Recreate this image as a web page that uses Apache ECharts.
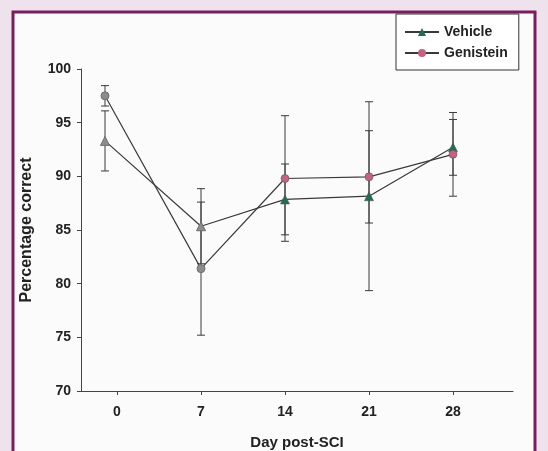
<!DOCTYPE html>
<html>
<head>
<meta charset="utf-8">
<script src="https://cdn.jsdelivr.net/npm/echarts@6/dist/echarts.min.js"></script>
<style>
  html, body { margin: 0; padding: 0; background: #eee3ed; }
  #chart { width: 548px; height: 451px; }
</style>
</head>
<body>
<div id="chart"></div>
<script>
// Day positions as plotted (day 0 points are drawn slightly left of the 0 tick)
const dayPositions = [-1, 7, 14, 21, 28];
const xTickValues = [0, 7, 14, 21, 28];
const yTickValues = [70, 75, 80, 85, 90, 95, 100];

const vehicleMean = [93.3, 85.35, 87.85, 88.15, 92.7];
const vehicleErr = [2.8, 3.5, 3.3, 8.8, 2.6];

const genisteinMean = [97.5, 81.4, 89.8, 89.95, 92.05];
const genisteinErr = [0.95, 6.2, 5.85, 4.3, 3.9];

const FONT = '"Liberation Sans", Arial, sans-serif';
const GRAY = '#8c8c8c';

function pointStyle(i, color) {
  // first two time points appear gray in the reference
  return i < 2 ? { color: GRAY, borderColor: '#6f6f6f', borderWidth: 1 }
               : { color: color, borderColor: '#555', borderWidth: 0.6 };
}

function lineData(means, color) {
  return means.map((v, i) => ({ value: [dayPositions[i], v], itemStyle: pointStyle(i, color) }));
}
function errData(means, errs) {
  return means.map((v, i) => [dayPositions[i], v - errs[i], v + errs[i]]);
}

function renderErr(params, api) {
  const x = api.value(0);
  const lo = api.coord([x, api.value(1)]);
  const hi = api.coord([x, api.value(2)]);
  const half = 4;
  const st = { stroke: '#3a3a3a', lineWidth: 1 };
  return {
    type: 'group',
    children: [
      { type: 'line', shape: { x1: hi[0], y1: hi[1], x2: lo[0], y2: lo[1] }, style: st },
      { type: 'line', shape: { x1: hi[0] - half, y1: hi[1], x2: hi[0] + half, y2: hi[1] }, style: st },
      { type: 'line', shape: { x1: lo[0] - half, y1: lo[1], x2: lo[0] + half, y2: lo[1] }, style: st }
    ]
  };
}

const chart = echarts.init(document.getElementById('chart'));
chart.setOption({
  animation: false,
  backgroundColor: 'transparent',
  graphic: [{
    type: 'rect', z: -10, silent: true,
    shape: { x: 13, y: 12, width: 522, height: 460 },
    style: { fill: '#fbfbfb', stroke: '#7a1e5b', lineWidth: 3 }
  }],
  grid: { left: 81, right: 35, top: 69, bottom: 60, containLabel: false, outerBoundsMode: 'none' },
  legend: {
    left: 396, top: 14, orient: 'vertical',
    padding: [11, 11, 10, 8],
    itemGap: 7,
    itemWidth: 34, itemHeight: 10,
    borderColor: '#333', borderWidth: 1, backgroundColor: '#ffffff',
    textStyle: { fontFamily: FONT, fontWeight: 'bold', fontSize: 14, color: '#222' },
    data: ['Vehicle', 'Genistein']
  },
  xAxis: {
    type: 'value', min: -3, max: 33,
    name: 'Day post-SCI', nameLocation: 'middle', nameGap: 44,
    nameTextStyle: { fontFamily: FONT, fontWeight: 'bold', fontSize: 15, color: '#222' },
    splitLine: { show: false },
    axisLine: { onZero: false, lineStyle: { color: '#444', width: 1 } },
    axisTick: { show: true, length: 4, customValues: xTickValues, lineStyle: { color: '#444' } },
    axisLabel: { customValues: xTickValues, margin: 14, fontFamily: FONT, fontWeight: 'bold', fontSize: 14, color: '#222' }
  },
  yAxis: {
    type: 'value', min: 70, max: 100, interval: 5,
    name: 'Percentage correct', nameLocation: 'middle', nameGap: 46, nameRotate: 90,
    nameTextStyle: { fontFamily: FONT, fontWeight: 'bold', fontSize: 16, color: '#222' },
    splitLine: { show: false },
    axisLine: { show: true, onZero: false, lineStyle: { color: '#444', width: 1 } },
    axisTick: { show: true, length: 4, lineStyle: { color: '#444' } },
    axisLabel: { margin: 10, fontFamily: FONT, fontWeight: 'bold', fontSize: 14, color: '#222' }
  },
  series: [
    {
      name: 'VehicleErr', type: 'custom', renderItem: renderErr,
      data: errData(vehicleMean, vehicleErr), z: 1, silent: true
    },
    {
      name: 'GenisteinErr', type: 'custom', renderItem: renderErr,
      data: errData(genisteinMean, genisteinErr), z: 1, silent: true
    },
    {
      name: 'Vehicle', type: 'line', symbol: 'triangle', symbolSize: 9,
      data: lineData(vehicleMean, '#1d6e55'), z: 3,
      itemStyle: { color: '#1d6e55' },
      lineStyle: { color: '#3a3a3a', width: 1.2 }
    },
    {
      name: 'Genistein', type: 'line', symbol: 'circle', symbolSize: 8,
      data: lineData(genisteinMean, '#c4637f'), z: 3,
      itemStyle: { color: '#c4637f' },
      lineStyle: { color: '#3a3a3a', width: 1.2 }
    }
  ]
});
</script>
</body>
</html>
